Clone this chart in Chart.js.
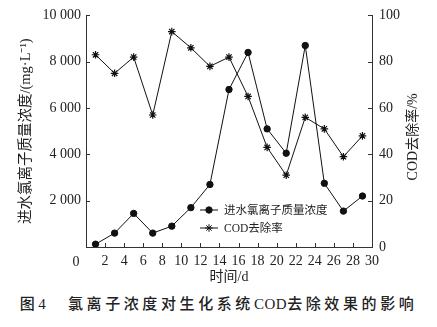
<!DOCTYPE html>
<html>
<head>
<meta charset="utf-8">
<script src="https://cdn.jsdelivr.net/npm/chart.js@4.4.0/dist/chart.umd.min.js"></script>
<style>
  html, body { margin: 0; padding: 0; background: #fff; }
  #wrap { width: 437px; height: 292px; position: relative; }
  #caption {
    width: 437px; height: 35px; line-height: 26px; text-align: center;
    font: 500 15px 'Liberation Serif', 'Noto Sans CJK SC', serif;
    letter-spacing: 3.6px; color: #222; white-space: nowrap;
  }
  #caption span { letter-spacing: 0.5px; }
</style>
</head>
<body>
<div id="wrap"><canvas id="chart"></canvas></div>
<div id="caption">图4　氯离子浓度对生化系统<span>COD</span>去除效果的影响</div>
<script>
// sampling days (d)
const days = [1, 3, 5, 7, 9, 11, 13, 15, 17, 19, 21, 23, 25, 27, 29];
// influent chloride concentration, mg/L
const chloride = [120, 600, 1450, 600, 900, 1700, 2700, 6800, 8400, 5100, 4050, 8700, 2750, 1550, 2200];
// COD removal rate, %
const codRemoval = [83, 75, 82, 57, 93, 86, 78, 82, 65, 43, 31, 56, 51, 39, 48];

const xTicks = [0, 2, 4, 6, 8, 10, 12, 14, 16, 18, 20, 22, 24, 26, 28, 30];
const leftTicks = [0, 2000, 4000, 6000, 8000, 10000];
const rightTicks = [0, 20, 40, 60, 80, 100];

const seriesNames = ['进水氯离子质量浓度', 'COD去除率'];
const leftTitle = '进水氯离子质量浓度/(mg·L⁻¹)';
const rightTitle = 'COD去除率/%';
const xTitle = '时间/d';

const SERIF = "'Liberation Serif', 'Noto Sans CJK SC', serif";
const INK = '#222';
const AXIS = '#333';

const fmt = v => String(v).replace(/\B(?=(\d{3})+(?!\d))/g, ' ');

// tick marks pointing into the plot, plus the lone origin "0", right title and legend
const extras = {
    id: 'extras',
    afterDraw(chart) {
        const { ctx, chartArea: a, scales } = chart;
        ctx.save();
        ctx.strokeStyle = AXIS;
        ctx.lineWidth = 1;
        ctx.beginPath();
        xTicks.forEach(v => {
            const px = Math.round(scales.x.getPixelForValue(v)) + 0.5;
            ctx.moveTo(px, a.bottom); ctx.lineTo(px, a.bottom - 4);
        });
        leftTicks.forEach(v => {
            const py = Math.round(scales.y.getPixelForValue(v)) + 0.5;
            ctx.moveTo(a.left, py); ctx.lineTo(a.left + 4, py);
        });
        rightTicks.forEach(v => {
            const py = Math.round(scales.y1.getPixelForValue(v)) + 0.5;
            ctx.moveTo(a.right, py); ctx.lineTo(a.right - 4, py);
        });
        ctx.stroke();

        ctx.fillStyle = INK;
        ctx.font = '14px ' + SERIF;
        ctx.textAlign = 'center';
        ctx.textBaseline = 'middle';
        ctx.fillText('0', scales.x.getPixelForValue(0) - 10, a.bottom + 15);

        // right axis title, reading bottom to top
        ctx.save();
        ctx.translate(a.right + 41, a.top + 165);
        ctx.rotate(-Math.PI / 2);
        ctx.textAlign = 'left';
        ctx.fillText(rightTitle, 0, 0);
        ctx.restore();

        // legend inside the plot
        ctx.font = '11.5px ' + SERIF;
        ctx.textAlign = 'left';
        chart.data.datasets.forEach((ds, i) => {
            const lx = a.left + 114;
            const ly = a.bottom - 37 + i * 18;
            ctx.beginPath();
            ctx.strokeStyle = ds.borderColor;
            ctx.lineWidth = 1;
            ctx.moveTo(lx, ly); ctx.lineTo(lx + 18, ly);
            ctx.stroke();
            ctx.fillStyle = ds.pointBackgroundColor;
            ctx.strokeStyle = ds.borderColor;
            Chart.helpers.drawPoint(ctx, {
                pointStyle: ds.pointStyle, radius: ds.pointRadius,
                rotation: 0, borderWidth: ds.pointBorderWidth
            }, lx + 9, ly);
            ctx.fillStyle = INK;
            ctx.fillText(ds.label, lx + 24, ly + 0.5);
        });
        ctx.restore();
    }
};

const ctx = document.getElementById('chart').getContext('2d');
const chart = new Chart(ctx, {
    type: 'line',
    data: {
        datasets: [{
            label: seriesNames[0],
            data: days.map((d, i) => ({ x: d, y: chloride[i] })),
            yAxisID: 'y',
            borderColor: '#111',
            borderWidth: 1,
            pointStyle: 'circle',
            pointRadius: 3.2,
            pointBorderWidth: 1,
            pointBackgroundColor: '#111',
            tension: 0
        }, {
            label: seriesNames[1],
            data: days.map((d, i) => ({ x: d, y: codRemoval[i] })),
            yAxisID: 'y1',
            borderColor: '#111',
            borderWidth: 1,
            pointStyle: 'star',
            pointRadius: 3.8,
            pointBorderWidth: 1.2,
            pointBackgroundColor: '#111',
            tension: 0
        }]
    },
    options: {
        responsive: true,
        maintainAspectRatio: false,
        animation: false,
        layout: { padding: { top: 15, left: 0, right: 0, bottom: 0 } },
        plugins: {
            legend: { display: false },
            tooltip: { enabled: false }
        },
        scales: {
            x: {
                type: 'linear',
                min: 0, max: 30,
                afterFit: s => { s.height = 45; },
                afterBuildTicks: s => { s.ticks = xTicks.map(v => ({ value: v })); },
                grid: { display: false, drawTicks: false },
                border: { display: true, color: AXIS, width: 1 },
                ticks: {
                    padding: 6, color: INK, maxRotation: 0, autoSkip: false,
                    font: { family: SERIF, size: 14 },
                    callback: v => v === 0 ? '' : String(v)
                },
                title: {
                    display: true, text: xTitle, color: INK,
                    font: { family: SERIF, size: 14 },
                    padding: { top: 0, bottom: 6 }
                }
            },
            y: {
                position: 'left',
                min: 0, max: 10000,
                afterFit: s => { s.width = 86; },
                afterBuildTicks: s => { s.ticks = leftTicks.map(v => ({ value: v })); },
                grid: { display: false, drawTicks: false },
                border: { display: true, color: AXIS, width: 1 },
                ticks: {
                    padding: 5, color: INK,
                    font: { family: SERIF, size: 14 },
                    callback: v => v === 0 ? '' : fmt(v)
                },
                title: {
                    display: true, text: leftTitle, color: INK,
                    font: { family: SERIF, size: 14.5 },
                    padding: { top: 17, bottom: 0 }
                }
            },
            y1: {
                position: 'right',
                min: 0, max: 100,
                afterFit: s => { s.width = 65; },
                afterBuildTicks: s => { s.ticks = rightTicks.map(v => ({ value: v })); },
                grid: { display: false, drawTicks: false },
                border: { display: true, color: AXIS, width: 1 },
                ticks: {
                    padding: 7, color: INK,
                    font: { family: SERIF, size: 14 }
                }
            }
        }
    },
    plugins: [extras]
});
</script>
</body>
</html>
